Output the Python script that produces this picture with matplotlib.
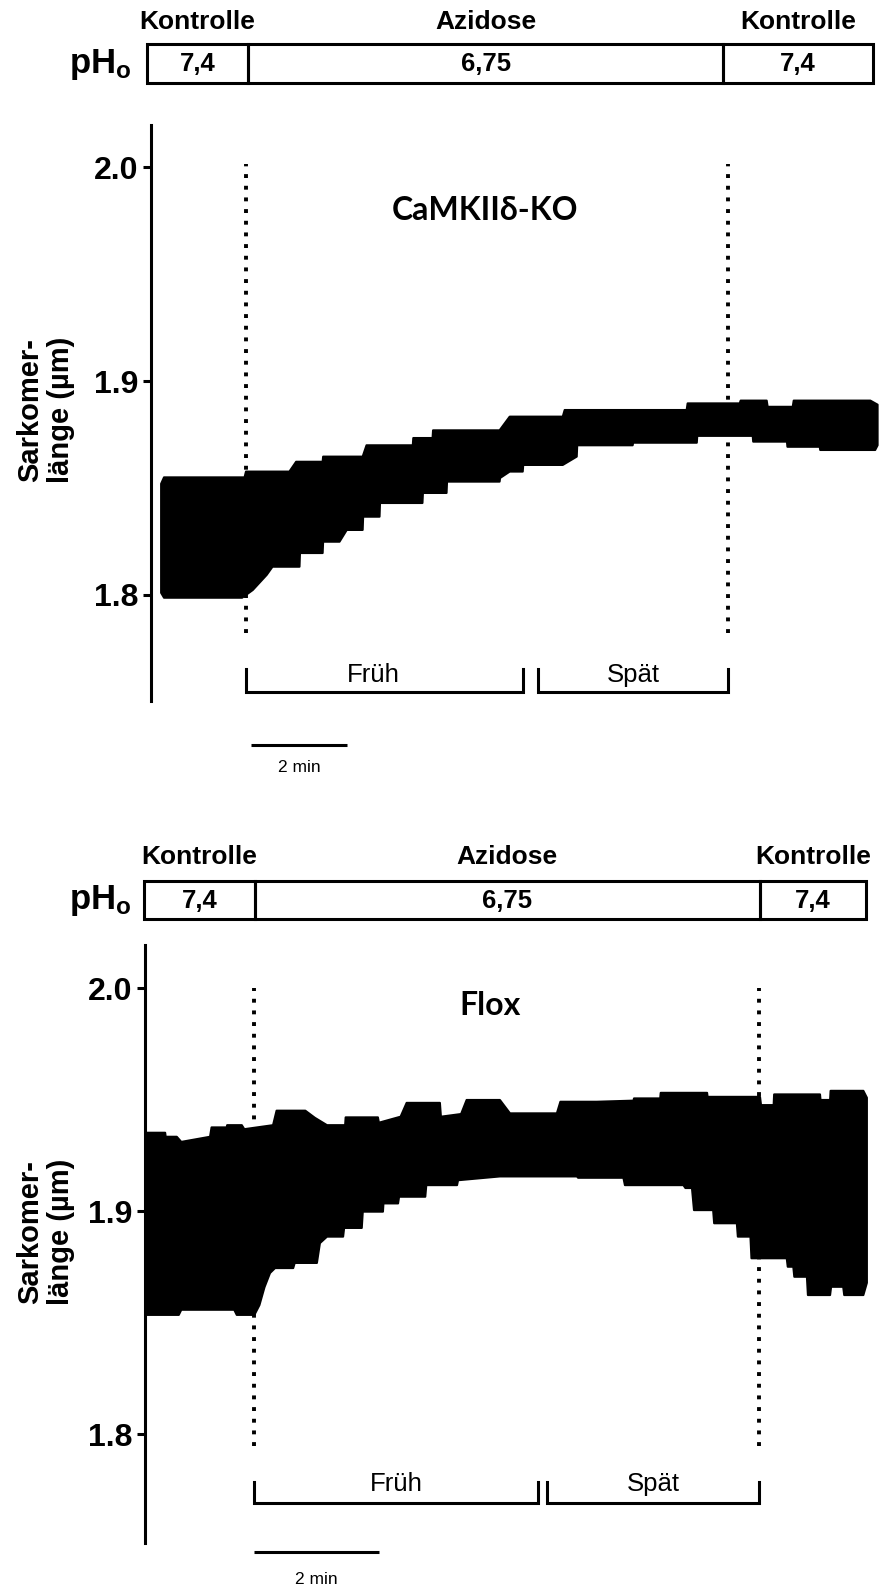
import numpy as np
import matplotlib.pyplot as plt
import matplotlib.transforms as mtransforms
from matplotlib.patches import Rectangle

plt.rcParams['font.family'] = ['Liberation Sans', 'DejaVu Sans']
plt.rcParams['mathtext.fontset'] = 'custom'
plt.rcParams['mathtext.bf'] = 'Liberation Sans:bold'
plt.rcParams['mathtext.rm'] = 'Liberation Sans'

#--------------------------------------------------------------------------------
# data: time in min, envelope of the sarcomere length recording in µm
ko_upper_t = [0.24, 0.30, 1.97, 2.00, 2.90, 3.04, 3.59, 3.60, 4.42, 4.50, 5.46, 5.47,
              5.87, 5.88, 7.26, 7.47, 8.57, 8.61, 11.14, 11.16, 12.24, 12.26, 12.80,
              12.82, 13.34, 13.36, 14.95, 15.10]
ko_upper_v = [1.852, 1.855, 1.855, 1.8577, 1.8577, 1.8623, 1.8623, 1.8647, 1.8647, 1.870,
              1.870, 1.8734, 1.8734, 1.877, 1.877, 1.8834, 1.8834, 1.8865, 1.8865, 1.8896,
              1.8896, 1.8909, 1.8909, 1.888, 1.888, 1.8909, 1.8909, 1.889]
ko_lower_t = [0.24, 0.30, 1.92, 2.14, 2.43, 2.55, 3.11, 3.12, 3.59, 3.60, 3.94, 4.09,
              4.42, 4.43, 4.77, 4.78, 5.66, 5.67, 6.16, 6.17, 7.26, 7.27, 7.47, 7.74,
              7.75, 8.57, 8.86, 8.87, 10.02, 10.03, 11.35, 11.36, 12.51, 12.52, 13.22,
              13.23, 13.90, 13.91, 15.05, 15.10]
ko_lower_v = [1.801, 1.7987, 1.7987, 1.8023, 1.8094, 1.8132, 1.8132, 1.8196, 1.8196, 1.8249,
              1.8249, 1.8304, 1.8304, 1.8366, 1.8366, 1.843, 1.843, 1.8477, 1.8477, 1.853,
              1.853, 1.8547, 1.8577, 1.8577, 1.8608, 1.8608, 1.8647, 1.870, 1.870, 1.8712,
              1.8712, 1.8744, 1.8744, 1.8717, 1.8717, 1.8693, 1.8693, 1.8678, 1.8678, 1.870]

flox_upper_t = [-0.18, -0.13, 0.23, 0.24, 0.46, 0.55, 1.12, 1.15, 1.45, 1.46, 1.75, 1.80,
                2.37, 2.44, 3.01, 3.20, 3.44, 3.80, 3.81, 4.45, 4.47, 4.90, 5.02, 5.68,
                5.70, 6.10, 6.21, 6.87, 7.07, 8.00, 8.07, 8.79, 9.52, 9.53, 10.05, 10.06,
                10.98, 10.99, 12.03, 12.05, 12.30, 12.31, 13.22, 13.23, 13.42, 13.43,
                14.08, 14.15]
flox_upper_v = [1.9283, 1.9353, 1.9353, 1.9335, 1.9335, 1.9312, 1.9335, 1.9377, 1.9377, 1.9387,
                1.9387, 1.9369, 1.9387, 1.9452, 1.9452, 1.942, 1.9387, 1.9387, 1.9422, 1.9422,
                1.9398, 1.9425, 1.9487, 1.9487, 1.9425, 1.9437, 1.950, 1.950, 1.944, 1.944,
                1.9492, 1.9492, 1.9497, 1.9507, 1.9507, 1.9532, 1.9532, 1.9514, 1.9514, 1.9477,
                1.9477, 1.9525, 1.9525, 1.950, 1.950, 1.9541, 1.9541, 1.951]
flox_lower_t = [-0.18, -0.13, 0.50, 0.55, 1.60, 1.65, 2.00, 2.10, 2.20, 2.31, 2.41, 2.77,
                2.80, 3.24, 3.30, 3.44, 3.76, 3.78, 4.13, 4.15, 4.55, 4.56, 4.85, 4.87,
                5.39, 5.41, 6.02, 6.04, 6.87, 8.40, 8.42, 9.32, 9.35, 10.51, 10.55, 10.68,
                10.72, 11.10, 11.12, 11.57, 11.59, 11.84, 11.86, 12.56, 12.58, 12.69, 12.71,
                12.96, 12.98, 13.42, 13.44, 13.68, 13.70, 14.08, 14.15]
flox_lower_v = [1.862, 1.8536, 1.8536, 1.8559, 1.8559, 1.8536, 1.8536, 1.858, 1.866, 1.8724,
                1.8746, 1.8746, 1.8769, 1.8769, 1.8858, 1.8887, 1.8887, 1.8926, 1.8926, 1.8999,
                1.8999, 1.9036, 1.9036, 1.9066, 1.9066, 1.9118, 1.9118, 1.914, 1.9157, 1.9157,
                1.9151, 1.9151, 1.9118, 1.9118, 1.9105, 1.9105, 1.9006, 1.9006, 1.8947, 1.8947,
                1.8887, 1.8887, 1.879, 1.879, 1.8752, 1.8752, 1.8707, 1.8707, 1.8625, 1.8625,
                1.8662, 1.8662, 1.8625, 1.8625, 1.868]

phases = ['Kontrolle', 'Azidose', 'Kontrolle']
ph_values = ['7,4', '6,75', '7,4']
ko_phase_edges = [-0.05, 2.04, 11.90, 15.00]
flox_phase_edges = [-0.19, 2.01, 12.02, 14.14]
acid_events = [2.0, 12.0]
ko_early, ko_late = (2.0, 7.75), (8.05, 12.0)
flox_early, flox_late = (2.0, 7.63), (7.81, 12.0)
ko_scalebar = (2.1, 4.1)
flox_scalebar = (2.0, 4.47)
yticks = [1.8, 1.9, 2.0]

#--------------------------------------------------------------------------------
W, H = 880, 1590
fig = plt.figure(figsize=(W / 100, H / 100), dpi=100)

def fy(px):
    # pixel row -> figure fraction
    return 1 - px / H

def panel(box, xlim, ylim, up_t, up_v, lo_t, lo_v, edges, early, late, bar,
          title, title_xy, rows):
    ax = fig.add_axes([box[0] / W, fy(box[2]), (W - box[0]) / W, (box[2] - box[1]) / H])
    ax.set_xlim(*xlim)
    ax.set_ylim(*ylim)
    ax.patch.set_alpha(0)
    for s in ['top', 'right', 'bottom']:
        ax.spines[s].set_visible(False)
    ax.spines['left'].set_linewidth(2.2)
    ax.set_xticks([])
    ax.set_yticks(yticks)
    ax.set_yticklabels(['%.1f' % v for v in yticks], fontsize=23, fontweight='bold')
    ax.tick_params(axis='y', length=6, width=2.2, pad=3)

    # trace envelope
    ax.fill(np.r_[up_t, lo_t[::-1]], np.r_[up_v, lo_v[::-1]], color='black',
            lw=1.5, joinstyle='round')

    # start / end of acidosis
    for t in acid_events:
        ax.plot([t, t], [rows['dot'][0], rows['dot'][1]], color='black', lw=2.8,
                linestyle=(0, (1, 2.0)))

    ax.text(title_xy[0], title_xy[1], title, ha='center', va='center', fontsize=23,
            fontweight='bold', family=['Lato', 'DejaVu Sans'])

    bt = mtransforms.blended_transform_factory(ax.transData, fig.transFigure)

    # header: pH bar
    y0, y1 = fy(rows['box'][1]), fy(rows['box'][0])
    for i in range(3):
        ax.add_patch(Rectangle((edges[i], y0), edges[i + 1] - edges[i], y1 - y0,
                               transform=bt, fill=False, lw=2.2, ec='black', clip_on=False))
        mid = (edges[i] + edges[i + 1]) / 2
        ax.text(mid, fy(rows['phase']), phases[i], transform=bt, ha='center', va='center',
                fontsize=19, fontweight='bold')
        ax.text(mid, fy(rows['val']), ph_values[i], transform=bt, ha='center', va='center',
                fontsize=18.5, fontweight='bold')
    fig.text(100 / W, fy(rows['val']), r'$\mathbf{pH_o}$', ha='center', va='center',
             fontsize=25)

    # Früh / Spät brackets
    yb, yt = fy(rows['brk'][1]), fy(rows['brk'][0])
    for (a, b), lab, dx in [(early, 'Früh', rows['fruh_dx']), (late, 'Spät', 0)]:
        ax.plot([a, a, b, b], [yt, yb, yb, yt], transform=bt, color='black', lw=2.2,
                clip_on=False, solid_joinstyle='miter')
        ax.text((a + b) / 2 + dx, fy(rows['brklab']), lab, transform=bt, ha='center',
                va='center', fontsize=18.5)

    # time scale bar
    ax.plot(list(bar), [fy(rows['bar'])] * 2, transform=bt, color='black', lw=2.2,
            clip_on=False, solid_capstyle='butt')
    ax.text(sum(bar) / 2, fy(rows['barlab']), '2 min', transform=bt, ha='center',
            va='center', fontsize=12.5)

    fig.text(46 / W, fy(rows['ylab']), 'Sarkomer-\nlänge (µm)', rotation=90,
             ha='center', va='center', fontsize=21, fontweight='bold',
             multialignment='center', linespacing=1.12)
    return ax

panel((151, 125, 701), (0.03, 15.15), (1.7504, 2.0198),
      ko_upper_t, ko_upper_v, ko_lower_t, ko_lower_v, ko_phase_edges,
      ko_early, ko_late, ko_scalebar, 'CaMKIIδ-KO', (6.95, 1.980),
      dict(dot=(1.782, 2.0015), box=(44, 83), phase=22, val=64, brk=(669, 692),
           brklab=675, bar=745, barlab=768, ylab=410, fruh_dx=-0.23))

panel((145, 945, 1543), (-0.17, 14.41), (1.7513, 2.0195),
      flox_upper_t, flox_upper_v, flox_lower_t, flox_lower_v, flox_phase_edges,
      flox_early, flox_late, flox_scalebar, 'Flox', (6.67, 1.9925),
      dict(dot=(1.795, 2.0), box=(881, 919), phase=857, val=901, brk=(1482, 1503),
           brklab=1484, bar=1552, barlab=1579, ylab=1232, fruh_dx=0.0))

fig.savefig('out.png', dpi=100)
